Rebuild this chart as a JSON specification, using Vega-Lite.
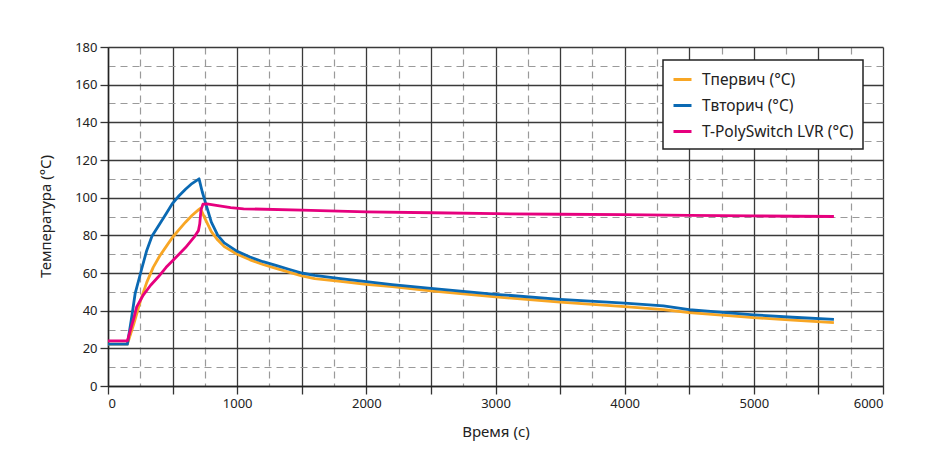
{
  "$schema": "https://vega.github.io/schema/vega-lite/v6.json",
  "width": 775,
  "height": 339,
  "autosize": "none",
  "padding": {"left": 108, "top": 47, "right": 46, "bottom": 90},
  "background": "white",
  "config": {
    "font": "Noto Sans",
    "view": {"stroke": null},
    "legend": {"strokeWidth": 1.5},
    "axis": {
      "labelFont": "Noto Sans",
      "titleFont": "Noto Sans",
      "labelFontSize": 13,
      "labelColor": "#222",
      "titleFontSize": 15,
      "titleFontWeight": "normal",
      "titleColor": "#222",
      "domainColor": "#222",
      "domainWidth": 1.5,
      "tickColor": "#333",
      "tickSize": 8,
      "tickWidth": 1.3
    }
  },
  "data": {
    "values": [
      {"t": 0, "v": 22.2, "s": "Tпервич (°C)"},
      {"t": 150, "v": 22.2, "s": "Tпервич (°C)"},
      {"t": 200, "v": 33, "s": "Tпервич (°C)"},
      {"t": 250, "v": 45, "s": "Tпервич (°C)"},
      {"t": 300, "v": 55, "s": "Tпервич (°C)"},
      {"t": 350, "v": 63, "s": "Tпервич (°C)"},
      {"t": 400, "v": 69, "s": "Tпервич (°C)"},
      {"t": 450, "v": 74, "s": "Tпервич (°C)"},
      {"t": 500, "v": 79, "s": "Tпервич (°C)"},
      {"t": 550, "v": 83, "s": "Tпервич (°C)"},
      {"t": 600, "v": 87, "s": "Tпервич (°C)"},
      {"t": 650, "v": 90.5, "s": "Tпервич (°C)"},
      {"t": 700, "v": 93.5, "s": "Tпервич (°C)"},
      {"t": 715, "v": 94.3, "s": "Tпервич (°C)"},
      {"t": 750, "v": 89, "s": "Tпервич (°C)"},
      {"t": 800, "v": 82, "s": "Tпервич (°C)"},
      {"t": 850, "v": 77.5, "s": "Tпервич (°C)"},
      {"t": 900, "v": 74, "s": "Tпервич (°C)"},
      {"t": 1000, "v": 70, "s": "Tпервич (°C)"},
      {"t": 1100, "v": 67, "s": "Tпервич (°C)"},
      {"t": 1200, "v": 64.5, "s": "Tпервич (°C)"},
      {"t": 1300, "v": 62.5, "s": "Tпервич (°C)"},
      {"t": 1400, "v": 60.5, "s": "Tпервич (°C)"},
      {"t": 1500, "v": 58.5, "s": "Tпервич (°C)"},
      {"t": 1600, "v": 57, "s": "Tпервич (°C)"},
      {"t": 1800, "v": 55.5, "s": "Tпервич (°C)"},
      {"t": 2000, "v": 54, "s": "Tпервич (°C)"},
      {"t": 2200, "v": 52.8, "s": "Tпервич (°C)"},
      {"t": 2500, "v": 50.5, "s": "Tпервич (°C)"},
      {"t": 3000, "v": 47.3, "s": "Tпервич (°C)"},
      {"t": 3500, "v": 44.5, "s": "Tпервич (°C)"},
      {"t": 4000, "v": 42.2, "s": "Tпервич (°C)"},
      {"t": 4300, "v": 40.5, "s": "Tпервич (°C)"},
      {"t": 4500, "v": 39, "s": "Tпервич (°C)"},
      {"t": 5000, "v": 36.3, "s": "Tпервич (°C)"},
      {"t": 5300, "v": 35, "s": "Tпервич (°C)"},
      {"t": 5620, "v": 33.6, "s": "Tпервич (°C)"},

      {"t": 0, "v": 22.2, "s": "Tвторич (°C)"},
      {"t": 150, "v": 22.2, "s": "Tвторич (°C)"},
      {"t": 180, "v": 35, "s": "Tвторич (°C)"},
      {"t": 210, "v": 49, "s": "Tвторич (°C)"},
      {"t": 260, "v": 62, "s": "Tвторич (°C)"},
      {"t": 300, "v": 72, "s": "Tвторич (°C)"},
      {"t": 340, "v": 79.5, "s": "Tвторич (°C)"},
      {"t": 400, "v": 86, "s": "Tвторич (°C)"},
      {"t": 450, "v": 91.5, "s": "Tвторич (°C)"},
      {"t": 500, "v": 97, "s": "Tвторич (°C)"},
      {"t": 550, "v": 101, "s": "Tвторич (°C)"},
      {"t": 600, "v": 104.5, "s": "Tвторич (°C)"},
      {"t": 650, "v": 107.5, "s": "Tвторич (°C)"},
      {"t": 705, "v": 110, "s": "Tвторич (°C)"},
      {"t": 730, "v": 103, "s": "Tвторич (°C)"},
      {"t": 765, "v": 95, "s": "Tвторич (°C)"},
      {"t": 800, "v": 87, "s": "Tвторич (°C)"},
      {"t": 850, "v": 80, "s": "Tвторич (°C)"},
      {"t": 900, "v": 76, "s": "Tвторич (°C)"},
      {"t": 1000, "v": 71.5, "s": "Tвторич (°C)"},
      {"t": 1100, "v": 68.5, "s": "Tвторич (°C)"},
      {"t": 1200, "v": 66, "s": "Tвторич (°C)"},
      {"t": 1300, "v": 64, "s": "Tвторич (°C)"},
      {"t": 1400, "v": 62, "s": "Tвторич (°C)"},
      {"t": 1500, "v": 60, "s": "Tвторич (°C)"},
      {"t": 1600, "v": 58.7, "s": "Tвторич (°C)"},
      {"t": 1800, "v": 57, "s": "Tвторич (°C)"},
      {"t": 2000, "v": 55.4, "s": "Tвторич (°C)"},
      {"t": 2200, "v": 53.8, "s": "Tвторич (°C)"},
      {"t": 2500, "v": 51.8, "s": "Tвторич (°C)"},
      {"t": 3000, "v": 48.7, "s": "Tвторич (°C)"},
      {"t": 3500, "v": 46, "s": "Tвторич (°C)"},
      {"t": 4000, "v": 44, "s": "Tвторич (°C)"},
      {"t": 4300, "v": 42.5, "s": "Tвторич (°C)"},
      {"t": 4500, "v": 40.5, "s": "Tвторич (°C)"},
      {"t": 5000, "v": 37.8, "s": "Tвторич (°C)"},
      {"t": 5300, "v": 36.5, "s": "Tвторич (°C)"},
      {"t": 5620, "v": 35.4, "s": "Tвторич (°C)"},

      {"t": 0, "v": 24, "s": "T-PolySwitch LVR (°C)"},
      {"t": 150, "v": 24, "s": "T-PolySwitch LVR (°C)"},
      {"t": 200, "v": 36, "s": "T-PolySwitch LVR (°C)"},
      {"t": 222, "v": 42, "s": "T-PolySwitch LVR (°C)"},
      {"t": 273, "v": 48.3, "s": "T-PolySwitch LVR (°C)"},
      {"t": 330, "v": 53.5, "s": "T-PolySwitch LVR (°C)"},
      {"t": 390, "v": 58, "s": "T-PolySwitch LVR (°C)"},
      {"t": 450, "v": 63, "s": "T-PolySwitch LVR (°C)"},
      {"t": 519, "v": 67.8, "s": "T-PolySwitch LVR (°C)"},
      {"t": 600, "v": 73.5, "s": "T-PolySwitch LVR (°C)"},
      {"t": 673, "v": 79.6, "s": "T-PolySwitch LVR (°C)"},
      {"t": 700, "v": 82.5, "s": "T-PolySwitch LVR (°C)"},
      {"t": 710, "v": 86, "s": "T-PolySwitch LVR (°C)"},
      {"t": 720, "v": 93.5, "s": "T-PolySwitch LVR (°C)"},
      {"t": 735, "v": 96.5, "s": "T-PolySwitch LVR (°C)"},
      {"t": 765, "v": 96.7, "s": "T-PolySwitch LVR (°C)"},
      {"t": 850, "v": 95.8, "s": "T-PolySwitch LVR (°C)"},
      {"t": 950, "v": 94.7, "s": "T-PolySwitch LVR (°C)"},
      {"t": 1050, "v": 94.1, "s": "T-PolySwitch LVR (°C)"},
      {"t": 1500, "v": 93.4, "s": "T-PolySwitch LVR (°C)"},
      {"t": 2000, "v": 92.5, "s": "T-PolySwitch LVR (°C)"},
      {"t": 2500, "v": 92, "s": "T-PolySwitch LVR (°C)"},
      {"t": 3000, "v": 91.5, "s": "T-PolySwitch LVR (°C)"},
      {"t": 3500, "v": 91.2, "s": "T-PolySwitch LVR (°C)"},
      {"t": 4000, "v": 91, "s": "T-PolySwitch LVR (°C)"},
      {"t": 4500, "v": 90.6, "s": "T-PolySwitch LVR (°C)"},
      {"t": 5000, "v": 90.3, "s": "T-PolySwitch LVR (°C)"},
      {"t": 5620, "v": 90, "s": "T-PolySwitch LVR (°C)"}
    ]
  },
  "mark": {"type": "line", "strokeWidth": 2.8, "strokeJoin": "round", "strokeCap": "butt"},
  "encoding": {
    "x": {
      "field": "t",
      "type": "quantitative",
      "scale": {"domain": [0, 6000], "nice": false, "zero": true},
      "axis": {
        "title": "Время (с)",
        "titlePadding": 14,
        "values": [0, 250, 500, 750, 1000, 1250, 1500, 1750, 2000, 2250, 2500, 2750, 3000, 3250, 3500, 3750, 4000, 4250, 4500, 4750, 5000, 5250, 5500, 5750, 6000],
        "format": "d",
        "labelExpr": "datum.value % 1000 === 0 ? datum.label : ''",
        "labelPadding": 3,
        "grid": true,
        "gridColor": {"condition": {"test": "datum.value % 500 !== 0", "value": "#9a9a9a"}, "value": "#3a3a3a"},
        "gridDash": {"condition": {"test": "datum.value % 500 !== 0", "value": [7, 5]}, "value": []},
        "gridWidth": {"condition": {"test": "datum.value % 500 !== 0", "value": 1.2}, "value": 1.3},
        "tickOpacity": {"condition": {"test": "datum.value % 500 !== 0", "value": 0}, "value": 1}
      }
    },
    "y": {
      "field": "v",
      "type": "quantitative",
      "scale": {"domain": [0, 180], "nice": false},
      "axis": {
        "title": "Температура (°C)",
        "titleX": -63,
        "titleY": 169,
        "titleAngle": -90,
        "titleAlign": "center",
        "titleBaseline": "middle",
        "values": [0, 10, 20, 30, 40, 50, 60, 70, 80, 90, 100, 110, 120, 130, 140, 150, 160, 170, 180],
        "labelExpr": "datum.value % 20 === 0 ? datum.label : ''",
        "labelPadding": 3,
        "grid": true,
        "gridColor": {"condition": {"test": "datum.value % 20 !== 0", "value": "#9a9a9a"}, "value": "#3a3a3a"},
        "gridDash": {"condition": {"test": "datum.value % 20 !== 0", "value": [7, 5]}, "value": []},
        "gridWidth": {"condition": {"test": "datum.value % 20 !== 0", "value": 1.2}, "value": 1.3},
        "tickOpacity": {"condition": {"test": "datum.value % 20 !== 0", "value": 0}, "value": 1}
      }
    },
    "color": {
      "field": "s",
      "type": "nominal",
      "sort": ["Tпервич (°C)", "Tвторич (°C)", "T-PolySwitch LVR (°C)"],
      "scale": {
        "domain": ["Tпервич (°C)", "Tвторич (°C)", "T-PolySwitch LVR (°C)"],
        "range": ["#F8A624", "#0A69B3", "#E6007E"]
      },
      "legend": {
        "title": null,
        "orient": "none",
        "legendX": 555,
        "legendY": 13,
        "fillColor": "white",
        "strokeColor": "#222",
        "padding": 9,
        "labelFont": "Noto Sans",
        "labelFontSize": 15.5,
        "labelColor": "#222",
        "labelOffset": 9,
        "symbolType": "stroke",
        "symbolSize": 324,
        "symbolStrokeWidth": 3,
        "rowPadding": 7
      }
    }
  }
}
